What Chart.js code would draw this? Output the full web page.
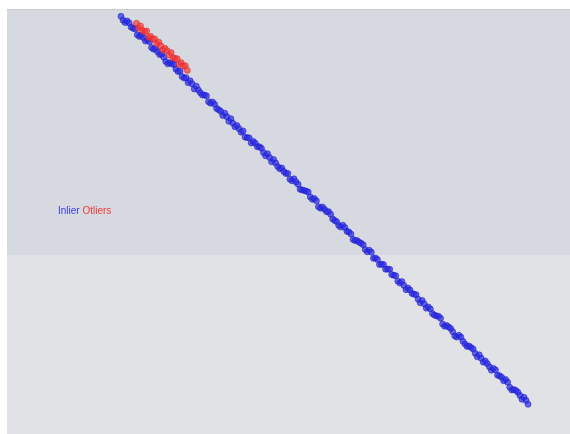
<!DOCTYPE html>
<html>
<head>
<meta charset="utf-8">
<script src="https://cdn.jsdelivr.net/npm/chart.js@4/dist/chart.umd.min.js"></script>
<style>
  html, body { margin: 0; padding: 0; background: #ffffff; }
  #wrap { width: 570px; height: 434px; }
</style>
</head>
<body>
<div id="wrap"><canvas id="c"></canvas></div>
<script>
// Inlier samples along the fitted line
const inlierX = [
  0.00,0.05,0.10,0.15,0.20,0.25,0.30,0.35,0.40,0.45,0.50,0.55,0.60,0.65,0.70,0.75,0.80,0.85,0.90,0.95,
  1.00,1.05,1.10,1.15,1.20,1.25,1.30,1.35,1.40,1.45,1.50,1.55,1.60,1.65,1.70,1.75,1.80,1.85,1.90,1.95,
  2.00,2.05,2.10,2.15,2.20,2.25,2.30,2.35,2.40,2.45,2.50,2.55,2.60,2.65,2.70,2.75,2.80,2.85,2.90,2.95,
  3.00,3.05,3.10,3.15,3.20,3.25,3.30,3.35,3.40,3.45,3.50,3.55,3.60,3.65,3.70,3.75,3.80,3.85,3.90,3.95,
  4.00,4.05,4.10,4.15,4.20,4.25,4.30,4.35,4.40,4.45,4.50,4.55,4.60,4.65,4.70,4.75,4.80,4.85,4.90,4.95,
  5.00,5.05,5.10,5.15,5.20,5.25,5.30,5.35,5.40,5.45,5.50,5.55,5.60,5.65,5.70,5.75,5.80,5.85,5.90,5.95,
  6.00,6.05,6.10,6.15,6.20,6.25,6.30,6.35,6.40,6.45,6.50,6.55,6.60,6.65,6.70,6.75,6.80,6.85,6.90,6.95,
  7.00,7.05,7.10,7.15,7.20,7.25,7.30,7.35,7.40,7.45,7.50,7.55,7.60,7.65,7.70,7.75,7.80,7.85,7.90,7.95,
  8.00,8.05,8.10,8.15,8.20,8.25,8.30,8.35,8.40,8.45,8.50,8.55,8.60,8.65,8.70,8.75,8.80,8.85,8.90,8.95,
  9.00,9.05,9.10,9.15,9.20,9.25,9.30,9.35,9.40,9.45,9.50,9.55,9.60,9.65,9.70,9.75,9.80,9.85,9.90,9.95,
  10.00
];
const inlierY = [
  10.02,9.92,9.86,9.90,9.85,9.74,9.71,9.69,9.54,9.50,9.53,9.47,9.38,9.41,9.36,9.21,9.17,9.18,9.10,9.03,
  9.04,8.96,8.85,8.79,8.82,8.79,8.77,8.65,8.59,8.60,8.46,8.42,8.43,8.30,8.35,8.27,8.14,8.21,8.11,8.04,
  7.98,7.98,7.96,7.81,7.77,7.80,7.74,7.63,7.60,7.56,7.45,7.51,7.42,7.30,7.37,7.25,7.16,7.19,7.11,7.02,
  7.05,6.89,6.88,6.87,6.74,6.78,6.73,6.64,6.64,6.60,6.49,6.41,6.46,6.36,6.25,6.31,6.22,6.13,6.07,6.09,
  6.00,5.95,5.95,5.80,5.76,5.81,5.73,5.67,5.54,5.52,5.51,5.49,5.47,5.34,5.28,5.30,5.24,5.09,5.05,5.08,
  5.02,4.96,4.96,4.89,4.77,4.73,4.70,4.60,4.56,4.61,4.55,4.45,4.43,4.38,4.24,4.21,4.21,4.17,4.14,4.10,
  3.98,3.92,3.96,3.91,3.75,3.76,3.72,3.59,3.60,3.59,3.47,3.47,3.47,3.33,3.31,3.30,3.16,3.11,3.15,3.05,
  2.94,2.98,2.93,2.84,2.82,2.81,2.69,2.60,2.66,2.57,2.46,2.49,2.44,2.32,2.28,2.26,2.25,2.20,2.05,1.99,
  2.01,1.97,1.93,1.85,1.74,1.71,1.76,1.71,1.60,1.53,1.47,1.48,1.44,1.40,1.29,1.20,1.25,1.16,1.06,1.09,
  1.02,0.94,0.85,0.90,0.86,0.72,0.71,0.67,0.58,0.61,0.54,0.41,0.34,0.35,0.33,0.28,0.20,0.10,0.15,0.07,
  -0.03
];

// Outlier samples, a short parallel run near the top
const outlierX = [0.38,0.43,0.48,0.53,0.58,0.63,0.68,0.73,0.78,0.83,0.88,0.93,0.98,
                  1.03,1.08,1.13,1.18,1.23,1.28,1.33,1.38,1.43,1.48,1.53,1.58,1.63];
const outlierY = [9.84,9.72,9.77,9.65,9.63,9.64,9.48,9.50,9.43,9.43,9.31,9.35,9.25,
                  9.15,9.19,9.13,9.02,9.08,8.95,8.93,8.92,8.78,8.82,8.73,8.74,8.62];

const legendLabels = ['Inlier', 'Otliers'];

const toPoints = (xs, ys) => xs.map((x, i) => ({ x: x, y: ys[i] }));

// Two-tone plot background plus the small text legend
const backdrop = {
  id: 'backdrop',
  beforeDraw(chart) {
    const { ctx, chartArea: a } = chart;
    ctx.save();
    const split = 255;
    ctx.fillStyle = '#d6d9df';
    ctx.fillRect(a.left, a.top, a.right - a.left, split - a.top);
    ctx.fillStyle = '#e0e2e6';
    ctx.fillRect(a.left, split, a.right - a.left, a.bottom - split);
    ctx.fillStyle = '#c6c8cc';
    ctx.fillRect(a.left, a.top, a.right - a.left, 1);
    ctx.restore();
  },
  afterDraw(chart) {
    const { ctx } = chart;
    ctx.save();
    ctx.font = '10px "Liberation Sans", Arial, sans-serif';
    ctx.textBaseline = 'middle';
    ctx.fillStyle = '#3c3ce6';
    ctx.fillText(legendLabels[0], 58, 211);
    const w = ctx.measureText(legendLabels[0] + ' ').width;
    ctx.fillStyle = '#ee3a3a';
    ctx.fillText(legendLabels[1], 58 + w, 211);
    ctx.restore();
  }
};

new Chart(document.getElementById('c'), {
  type: 'scatter',
  data: {
    datasets: [
      {
        label: legendLabels[1],
        data: toPoints(outlierX, outlierY),
        order: 0,
        pointRadius: 3,
        borderWidth: 0.8,
        backgroundColor: 'rgba(245,60,60,0.7)',
        borderColor: 'rgba(225,30,30,0.7)'
      },
      {
        label: legendLabels[0],
        data: toPoints(inlierX, inlierY),
        order: 1,
        pointRadius: 3,
        borderWidth: 0.8,
        backgroundColor: 'rgba(45,45,230,0.7)',
        borderColor: 'rgba(25,25,200,0.7)'
      }
    ]
  },
  options: {
    responsive: true,
    maintainAspectRatio: false,
    animation: false,
    layout: { autoPadding: false, padding: { left: 7, top: 9, right: 0, bottom: 0 } },
    plugins: {
      legend: { display: false },
      tooltip: { enabled: false }
    },
    scales: {
      x: { type: 'linear', min: -2.80, max: 11.03, display: false },
      y: { type: 'linear', min: -0.80, max: 10.21, display: false }
    }
  },
  plugins: [backdrop]
});
</script>
</body>
</html>
